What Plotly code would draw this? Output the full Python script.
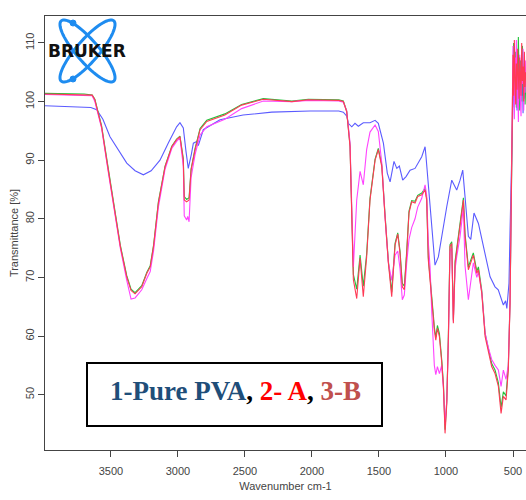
import numpy as np
import plotly.graph_objects as go

# ---------------- data ----------------
wn_pva = [3992, 3800, 3650, 3606, 3560, 3507, 3440, 3382, 3320, 3258,
          3200, 3134, 3070, 3010, 2985, 2960, 2940, 2923, 2900, 2885,
          2860, 2848, 2811, 2686, 2514, 2300, 2014, 1800, 1766, 1740,
          1729, 1703, 1679, 1654, 1617, 1567, 1529, 1505, 1467, 1438,
          1417, 1388, 1367, 1348, 1323, 1298, 1268, 1231, 1181, 1156,
          1149, 1132, 1106, 1082, 1057, 1032, 994, 957, 920, 895,
          875, 858, 833, 815, 791, 758, 721, 671, 634, 610,
          572, 555, 546, 530, 522, 514]
t_pva = [99.3, 99.2, 99.0, 98.6, 97.0, 94.0, 91.5, 89.5, 88.2, 87.5,
         88.2, 90.0, 93.0, 95.7, 96.4, 95.5, 91.5, 88.6, 91.0, 92.9,
         93.2, 92.5, 95.2, 96.9, 97.7, 98.2, 98.4, 98.4, 98.2, 97.5,
         96.3, 95.7, 96.3, 95.8, 96.4, 96.4, 96.8, 96.3, 92.9, 87.8,
         86.3, 89.8, 88.6, 89.0, 86.6, 87.2, 88.3, 88.6, 90.6, 92.3,
         90.6, 85.5, 78.1, 72.1, 73.5, 77.0, 82.1, 86.6, 84.9, 86.6,
         88.3, 83.8, 77.0, 76.5, 81.0, 79.2, 75.3, 70.1, 68.4, 67.9,
         65.3, 66.0, 64.7, 69.0, 78.0, 88.0]

wn_s = [3992, 3700, 3640, 3620, 3570, 3520, 3470, 3430, 3382, 3350,
        3320, 3270, 3232, 3207, 3182, 3146, 3096, 3046, 3010, 2985,
        2960, 2953, 2935, 2927, 2917, 2902, 2872, 2835, 2785, 2650,
        2525, 2363, 2150, 2027, 1800, 1766, 1741, 1716, 1703, 1691,
        1666, 1641, 1617, 1592, 1567, 1529, 1505, 1479, 1455, 1430,
        1405, 1380, 1360, 1343, 1326, 1311, 1293, 1276, 1256, 1231,
        1211, 1181, 1156, 1144, 1132, 1119, 1106, 1094, 1087, 1076,
        1064, 1049, 1032, 1019, 1007, 994, 982, 970, 957, 945,
        932, 920, 895, 870, 858, 833, 796, 770, 758, 733,
        708, 684, 659, 634, 609, 589, 572, 552, 535, 522,
        514, 508]
t_red = [101.3, 101.2, 101.1, 100.3, 95.7, 88.3, 81.0, 75.3, 70.1, 67.8,
         67.2, 68.4, 70.7, 71.8, 75.3, 82.7, 88.9, 92.3, 93.5, 94.0,
         90.0, 83.2, 82.9, 83.0, 83.2, 88.3, 91.8, 95.2, 96.6, 97.7,
         99.4, 100.4, 100.0, 100.3, 100.2, 100.0, 98.3, 92.3, 81.0, 69.6,
         66.4, 73.3, 66.7, 73.5, 83.2, 90.0, 91.8, 88.9, 80.4, 72.5,
         66.7, 75.5, 77.4, 74.1, 68.4, 67.9, 74.1, 81.0, 82.9, 82.7,
         83.8, 84.1, 84.9, 83.2, 73.0, 70.0, 66.7, 63.0, 61.0, 59.3,
         61.3, 59.9, 55.6, 51.4, 43.4, 48.5, 59.9, 75.3, 75.8, 62.2,
         72.4, 74.7, 78.7, 83.2, 77.0, 71.3, 73.8, 70.7, 71.3, 67.3,
         59.9, 57.1, 54.8, 53.6, 51.4, 46.8, 49.7, 49.1, 54.2, 65.6,
         82.7, 97.0]
t_mag = [101.2, 101.1, 101.0, 100.0, 95.5, 88.0, 80.8, 75.0, 69.5, 66.3,
         66.5, 67.9, 69.8, 71.0, 74.5, 82.0, 88.5, 92.0, 93.2, 93.8,
         89.0, 80.5, 79.8, 80.4, 79.5, 87.0, 91.0, 94.3, 95.7, 97.0,
         98.8, 100.1, 100.0, 100.2, 100.1, 99.9, 98.4, 93.0, 82.0, 71.8,
         83.2, 88.1, 85.8, 91.8, 94.8, 96.0, 94.9, 89.5, 80.4, 72.5,
         69.5, 73.8, 74.5, 71.5, 66.2, 67.0, 72.5, 76.5, 78.5, 80.0,
         82.0, 83.5, 85.8, 84.0, 76.0, 71.8, 64.0, 57.6, 55.0, 53.4,
         54.8, 53.6, 55.0, 51.0, 45.0, 49.0, 59.0, 74.5, 75.0, 62.5,
         71.5, 73.5, 77.0, 82.0, 72.0, 66.2, 72.5, 70.0, 71.0, 67.5,
         60.5, 58.0, 56.0, 55.0, 54.2, 51.4, 54.2, 52.6, 55.0, 66.0,
         83.0, 97.0]
t_grn = [101.4, 101.3, 101.1, 100.4, 95.9, 88.5, 81.2, 75.5, 70.3, 68.0,
         67.4, 68.6, 70.9, 72.0, 75.5, 82.9, 89.0, 92.4, 93.6, 94.1,
         90.3, 83.8, 83.3, 83.5, 83.6, 88.5, 92.0, 95.4, 96.8, 97.9,
         99.5, 100.5, 100.1, 100.4, 100.3, 100.1, 98.4, 92.5, 81.5, 70.5,
         68.0, 73.8, 68.5, 74.0, 83.5, 90.2, 92.0, 89.2, 80.8, 72.8,
         67.5, 75.8, 77.6, 74.5, 69.0, 68.5, 74.5, 81.3, 83.1, 83.0,
         84.0, 84.4, 85.2, 83.5, 73.5, 70.5, 67.3, 63.5, 61.5, 59.8,
         61.8, 60.4, 56.0, 51.8, 44.0, 49.0, 60.3, 75.6, 76.1, 62.8,
         72.8, 75.0, 79.0, 83.6, 77.5, 71.8, 74.2, 71.1, 71.8, 67.8,
         60.4, 57.6, 55.3, 54.2, 52.0, 47.8, 50.5, 49.8, 54.8, 66.0,
         83.0, 97.5]

# noisy low-wavenumber end (detector edge)
wn_n = [505, 500, 495, 490, 485, 480, 475, 470, 465, 460, 455,
        450, 445, 440, 435, 430, 425, 420, 415, 410, 405]
t_pva_n = [97.0, 100.5, 104.0, 99.0, 106.0, 101.5, 103.0, 98.5, 105.5, 100.0, 102.5,
           107.0, 99.5, 104.0, 101.0, 106.5, 98.0, 103.5, 100.5, 105.0, 102.0]
t_red_n = [103.5, 108.0, 101.0, 110.5, 104.0, 99.5, 106.5, 102.0, 109.0, 103.0, 100.5,
           107.5, 104.5, 101.0, 110.0, 103.5, 106.0, 100.0, 108.5, 102.5, 105.0]
t_mag_n = [100.0, 109.5, 103.0, 97.0, 107.5, 102.0, 110.5, 99.0, 105.0, 96.5, 104.5,
           108.0, 100.5, 97.5, 106.0, 103.0, 109.0, 98.5, 104.0, 101.5, 107.0]
t_grn_n = [102.0, 105.5, 110.0, 100.5, 103.5, 108.5, 99.0, 106.0, 102.0, 111.0, 104.5,
           98.5, 107.0, 103.0, 100.0, 109.5, 104.0, 101.5, 106.5, 99.5, 103.0]

x_ticks = [3500, 3000, 2500, 2000, 1500, 1000, 500]
y_ticks = [50, 60, 70, 80, 90, 100, 110]

# ---------------- figure ----------------
W, H = 526, 500
ML, MR, MT, MB = 45, 0, 16, 50
PW, PH = W - ML - MR, H - MT - MB


def px2paper(px, py):
    return (px - ML) / PW, (H - MB - py) / PH


fig = go.Figure()
series = [
    (wn_pva + wn_n, t_pva + t_pva_n, "#5b5bff", 1.1),
    (wn_s + wn_n, t_grn + t_grn_n, "#22c33a", 1.1),
    (wn_s + wn_n, t_mag + t_mag_n, "#ff44ff", 1.1),
    (wn_s + wn_n, t_red + t_red_n, "#ff3a55", 1.1),
]
for xs, ys, col, w in series:
    fig.add_trace(go.Scatter(x=xs, y=ys, mode="lines",
                             line=dict(color=col, width=w),
                             hoverinfo="skip", showlegend=False))

axis_font = dict(family="Liberation Sans Narrow, Arial Narrow, Liberation Sans, Arial",
                 size=11, color="#444")
fig.update_xaxes(range=[3992, 403], tickvals=x_ticks, ticks="outside", ticklen=6,
                 tickcolor="#444", showline=True, linecolor="#444", linewidth=1,
                 mirror=True, showgrid=False, zeroline=False, tickfont=axis_font,
                 ticklabelstandoff=5,
                 title=dict(text="Wavenumber cm-1", font=axis_font, standoff=6))
fig.update_yaxes(range=[40.56, 114.6], tickvals=y_ticks, ticks="outside", ticklen=6,
                 tickcolor="#444", showline=True, linecolor="#444", linewidth=1,
                 tickangle=-90, showgrid=False, zeroline=False, tickfont=axis_font,
                 title=dict(text="Transmittance [%]", font=axis_font, standoff=2))

# ---- Bruker logo: two crossed orbits + electrons + wordmark ----
cx, cy, a, b = 87.5, 51.0, 40.0, 11.0
tt = np.linspace(0, 2 * np.pi, 73)
for ang in (np.deg2rad(49), np.deg2rad(-49)):
    ex = cx + a * np.cos(tt) * np.cos(ang) - b * np.sin(tt) * np.sin(ang)
    ey = cy + a * np.cos(tt) * np.sin(ang) + b * np.sin(tt) * np.cos(ang)
    pts = [px2paper(u, v) for u, v in zip(ex, ey)]
    path = "M " + " L ".join(f"{p[0]:.5f},{p[1]:.5f}" for p in pts) + " Z"
    fig.add_shape(type="path", path=path, xref="paper", yref="paper",
                  line=dict(color="#1e8cf0", width=3))
for ex, ey in ((73, 23), (73, 79)):
    x0, y0 = px2paper(ex - 3, ey + 3)
    x1, y1 = px2paper(ex + 3, ey - 3)
    fig.add_shape(type="circle", xref="paper", yref="paper", x0=x0, y0=y0, x1=x1, y1=y1,
                  fillcolor="#1e8cf0", line=dict(color="#1e8cf0", width=1))
lx, ly = px2paper(86.5, 51)
fig.add_annotation(x=lx, y=ly, xref="paper", yref="paper", showarrow=False,
                   xanchor="center", yanchor="middle",
                   text="<b>BRUKER</b>",
                   font=dict(family="DejaVu Sans", size=17, color="#111"))

# ---- sample label box ----
bx0, by0 = px2paper(87, 426)
bx1, by1 = px2paper(382, 363)
fig.add_shape(type="rect", xref="paper", yref="paper", x0=bx0, y0=by0, x1=bx1, y1=by1,
              fillcolor="white", line=dict(color="black", width=2), layer="above")
tx, ty = px2paper(235.5, 391)
fig.add_annotation(x=tx, y=ty, xref="paper", yref="paper", showarrow=False,
                   xanchor="center", yanchor="middle",
                   text=("<b><span style='color:#1f4e79'>1-Pure PVA</span>"
                         "<span style='color:#000'>, </span>"
                         "<span style='color:#ff0000'>2- A</span>"
                         "<span style='color:#000'>, </span>"
                         "<span style='color:#c0504d'>3-B</span></b>"),
                   font=dict(family="Liberation Serif, Times New Roman", size=27))

fig.update_layout(width=W, height=H, margin=dict(l=ML, r=MR, t=MT, b=MB),
                  plot_bgcolor="white", paper_bgcolor="white", showlegend=False)

fig.write_html("out.html")
